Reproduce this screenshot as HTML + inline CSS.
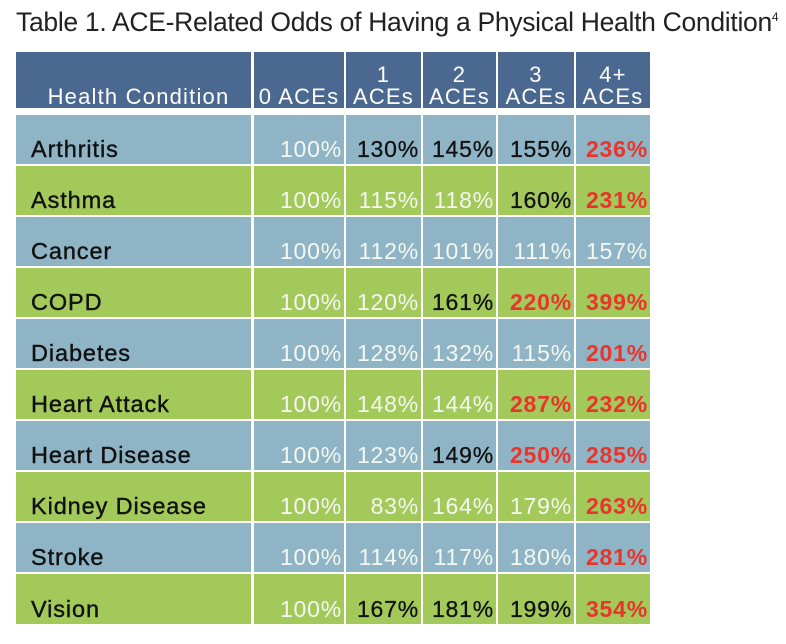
<!DOCTYPE html>
<html><head><meta charset="utf-8"><style>
body{margin:0;width:786px;height:644px;background:#fff;font-family:"Liberation Sans",Arial,sans-serif;position:relative;overflow:hidden}
.t{position:absolute;left:16px;top:7px;font-size:26.5px;color:#222;white-space:nowrap;letter-spacing:-0.3px}
.c{position:absolute;box-sizing:border-box;font-size:23px;letter-spacing:0.8px;white-space:nowrap;display:flex;align-items:flex-end;padding-bottom:1px;height:49px}
.h{background:#4a6890;color:#fff;justify-content:center;text-align:center;line-height:22px;padding-bottom:0;top:52px;height:56px;font-size:22px;letter-spacing:1.2px}
.b{background:#8fb4c6}.g{background:#a2c95a}
.n{justify-content:flex-start;padding-left:15px;color:#111;font-size:23.5px;letter-spacing:0.9px;-webkit-text-stroke:0.4px #111}
.v{justify-content:flex-end;padding-right:2px;color:#f4f8f0}
.k{color:#111;-webkit-text-stroke:0.3px #111}.r{color:#e8352b;font-weight:bold}
.c0{left:16px;width:235px}.c1{left:254px;width:90px}.c2{left:346px;width:75px}.c3{left:423px;width:73px}.c4{left:498px;width:76px}.c5{left:576px;width:74px}
.h.c0{padding-left:10px}
</style></head><body>
<div class="t">Table 1. ACE-Related Odds of Having a Physical Health Condition<sup style="font-size:12px">4</sup></div>
<div class="c h c0">Health Condition</div>
<div class="c h c1">0 ACEs</div>
<div class="c h c2"><span>1<br>ACEs</span></div>
<div class="c h c3"><span>2<br>ACEs</span></div>
<div class="c h c4"><span>3<br>ACEs</span></div>
<div class="c h c5"><span>4+<br>ACEs</span></div>

<div style="position:absolute;left:0;top:115px;width:786px">
<div class="c b n c0" style="top:0">Arthritis</div><div class="c b v c1" style="top:0">100%</div><div class="c b v k c2" style="top:0">130%</div><div class="c b v k c3" style="top:0">145%</div><div class="c b v k c4" style="top:0">155%</div><div class="c b v r c5" style="top:0">236%</div>
<div class="c g n c0" style="top:51px">Asthma</div><div class="c g v c1" style="top:51px">100%</div><div class="c g v c2" style="top:51px">115%</div><div class="c g v c3" style="top:51px">118%</div><div class="c g v k c4" style="top:51px">160%</div><div class="c g v r c5" style="top:51px">231%</div>
<div class="c b n c0" style="top:102px">Cancer</div><div class="c b v c1" style="top:102px">100%</div><div class="c b v c2" style="top:102px">112%</div><div class="c b v c3" style="top:102px">101%</div><div class="c b v c4" style="top:102px">111%</div><div class="c b v c5" style="top:102px">157%</div>
<div class="c g n c0" style="top:153px">COPD</div><div class="c g v c1" style="top:153px">100%</div><div class="c g v c2" style="top:153px">120%</div><div class="c g v k c3" style="top:153px">161%</div><div class="c g v r c4" style="top:153px">220%</div><div class="c g v r c5" style="top:153px">399%</div>
<div class="c b n c0" style="top:204px">Diabetes</div><div class="c b v c1" style="top:204px">100%</div><div class="c b v c2" style="top:204px">128%</div><div class="c b v c3" style="top:204px">132%</div><div class="c b v c4" style="top:204px">115%</div><div class="c b v r c5" style="top:204px">201%</div>
<div class="c g n c0" style="top:255px">Heart Attack</div><div class="c g v c1" style="top:255px">100%</div><div class="c g v c2" style="top:255px">148%</div><div class="c g v c3" style="top:255px">144%</div><div class="c g v r c4" style="top:255px">287%</div><div class="c g v r c5" style="top:255px">232%</div>
<div class="c b n c0" style="top:306px">Heart Disease</div><div class="c b v c1" style="top:306px">100%</div><div class="c b v c2" style="top:306px">123%</div><div class="c b v k c3" style="top:306px">149%</div><div class="c b v r c4" style="top:306px">250%</div><div class="c b v r c5" style="top:306px">285%</div>
<div class="c g n c0" style="top:357px">Kidney Disease</div><div class="c g v c1" style="top:357px">100%</div><div class="c g v c2" style="top:357px">83%</div><div class="c g v c3" style="top:357px">164%</div><div class="c g v c4" style="top:357px">179%</div><div class="c g v r c5" style="top:357px">263%</div>
<div class="c b n c0" style="top:408px">Stroke</div><div class="c b v c1" style="top:408px">100%</div><div class="c b v c2" style="top:408px">114%</div><div class="c b v c3" style="top:408px">117%</div><div class="c b v c4" style="top:408px">180%</div><div class="c b v r c5" style="top:408px">281%</div>
<div class="c g n c0" style="top:459px;height:50px">Vision</div><div class="c g v c1" style="top:459px;height:50px">100%</div><div class="c g v k c2" style="top:459px;height:50px">167%</div><div class="c g v k c3" style="top:459px;height:50px">181%</div><div class="c g v k c4" style="top:459px;height:50px">199%</div><div class="c g v r c5" style="top:459px;height:50px">354%</div>
</div>
</body></html>
